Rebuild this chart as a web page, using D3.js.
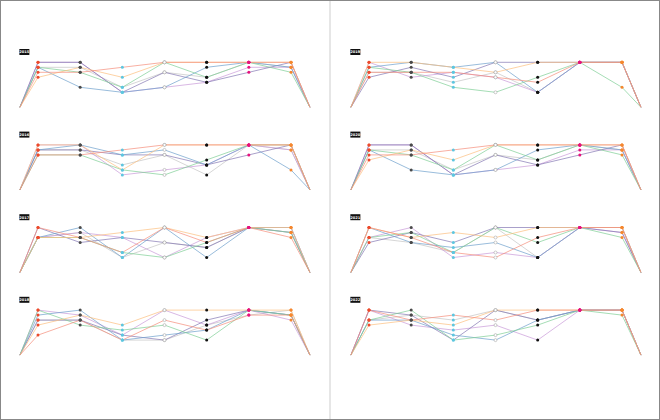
<!DOCTYPE html>
<html>
<head lang="en">
  <meta charset="UTF-8">
  <title>Rank paths by year</title>
</head>
<style>
  body { margin: 0; background: #fff; }
  #chart .path { fill: none; stroke-width: 1; stroke-opacity: 0.7; }
  #chart .label text { font-family: "DejaVu Sans", sans-serif; font-size: 3.6px; fill: #fff; font-weight: bold; }
</style>
<body>

<svg id="chart" width="660" height="420"></svg>

<script src="https://cdn.jsdelivr.net/npm/d3@7"></script>
<script>
  // Years, one small panel each (left column first, then right)
  var years  = ['2015', '2016', '2017', '2018', '2019', '2020', '2021', '2022'];
  var series = ['salmon', 'orange', 'green', 'blue', 'purple', 'lilac', 'gray'];
  var steps  = [0, 1, 2, 3, 4, 5, 6];

  // Rank level (0 = top) of each series at each step, per year
  var y2015 = [[2,2,1,0,0,0,0], [3,1,3,0,0,0,0], [1,2,5,0,3,0,2], [1,5,6,5,1,0,1], [0,0,6,2,4,2,0], [0,0,6,5,4,1,1], [1,1,5,2,3,0,1]];
  var y2016 = [[2,2,1,0,0,0,0], [0,0,5,0,0,0,0], [2,2,5,6,3,0,0], [1,0,2,1,4,0,5], [1,1,2,2,4,2,0], [0,0,6,5,4,0,1], [1,1,4,2,6,0,1]];
  var y2017 = [[0,2,5,0,3,0,2], [2,2,1,0,2,0,0], [2,2,5,6,3,0,1], [2,0,6,0,6,0,0], [0,3,2,3,4,0,1], [2,1,2,6,2,0,0], [2,1,6,3,4,0,1]];
  var y2018 = [[5,2,6,2,4,1,1], [3,1,3,0,0,0,0], [0,3,4,3,6,0,1], [1,0,6,5,4,0,1], [2,2,5,6,2,0,1], [0,1,5,0,3,0,2], [2,2,6,6,3,1,0]];
  var y2019 = [[2,2,2,3,4,0,0], [0,0,1,2,0,0,0], [1,2,5,6,3,0,5], [1,0,1,0,6,0,0], [3,1,3,0,0,0,0], [0,3,2,3,6,0,0], [2,2,4,2,6,0,0]];
  var y2020 = [[2,2,1,0,0,0,0], [3,1,3,0,0,0,0], [1,2,5,0,3,0,2], [1,5,6,5,1,0,1], [0,0,6,2,4,2,0], [0,0,6,5,4,1,1], [1,1,5,2,3,0,1]];
  var y2021 = [[0,2,5,6,2,0,0], [0,2,1,2,0,0,0], [2,1,5,0,3,0,2], [0,3,4,3,6,0,0], [3,1,3,0,0,0,1], [2,0,6,5,6,0,1], [2,3,5,0,6,0,0]];
  var y2022 = [[0,2,1,2,0,0,0], [3,2,3,0,0,0,0], [2,0,6,5,3,0,1], [2,2,5,6,2,0,0], [0,1,6,0,2,0,0], [0,3,4,3,6,0,0], [2,1,2,0,2,0,0]];
  var panels = [y2015, y2016, y2017, y2018, y2019, y2020, y2021, y2022];

  var lineColors = ['#f58d7a', '#fcbf7f', '#7fcf95', '#6d9fcc', '#8478b4', '#c99ad8', '#c4c4c4'];
  var nodeFill   = ['#ec4a2c', '#4a4a4a', '#5ec6df', '#ffffff', '#111111', '#e5127d', '#f5872e'];

  var startStep = -0.43, endStep = 6.45, baseLevel = 9;

  var chart = d3.select('#chart');

  // frame and column divider
  chart.append('rect')
    .attr('x', 0.5).attr('y', 0.5).attr('width', 659).attr('height', 419)
    .attr('fill', 'none').attr('stroke', '#888');
  chart.append('line')
    .attr('x1', 330).attr('x2', 330).attr('y1', 1).attr('y2', 419)
    .attr('stroke', '#e6e6e6').attr('stroke-width', 2);

  var x = d3.scaleLinear().domain([0, 6]).range([38, 291]);
  var y = d3.scaleLinear().domain([0, baseLevel]).range([0, 45]);

  var line = d3.line()
    .x(function (d) { return x(d.step); })
    .y(function (d) { return y(d.level); });

  panels.forEach(function (data, p) {
    var col = Math.floor(p / 4), row = p % 4;
    var g = chart.append('g')
      .attr('transform', 'translate(' + (col * 331) + ',' + (62.3 + row * 82.6) + ')');

    // year tag
    var tag = g.append('g').attr('class', 'label');
    tag.append('rect')
      .attr('x', x(startStep) - 0.5).attr('y', -13.3)
      .attr('width', 10).attr('height', 6).attr('fill', '#111');
    tag.append('text')
      .attr('x', x(startStep) + 4.5).attr('y', -9)
      .attr('text-anchor', 'middle')
      .text(years[p]);

    // one path per series, rising from the base and falling back to it;
    // drawn in reverse so the warm lines sit on top
    var order = d3.range(data.length).reverse();
    g.selectAll('path.path')
      .data(order)
      .enter()
        .append('path')
        .attr('class', 'path')
        .attr('stroke', function (i) { return lineColors[i]; })
        .attr('d', function (i) {
          var pts = [{ step: startStep, level: baseLevel }];
          data[i].forEach(function (v, s) { pts.push({ step: steps[s], level: v }); });
          pts.push({ step: endStep, level: baseLevel });
          return line(pts);
        });

    // nodes at every step
    var nodes = [];
    data.forEach(function (d) {
      d.forEach(function (v, i) { nodes.push({ step: steps[i], level: v }); });
    });
    g.selectAll('circle')
      .data(nodes)
      .enter()
        .append('circle')
        .attr('cx', function (d) { return x(d.step); })
        .attr('cy', function (d) { return y(d.level); })
        .attr('r', 1.5)
        .attr('fill', function (d) { return nodeFill[d.step]; })
        .attr('stroke', function (d) { return d.step === 3 ? '#999' : 'none'; })
        .attr('stroke-width', 0.5);
  });
</script>
</body>
</html>
